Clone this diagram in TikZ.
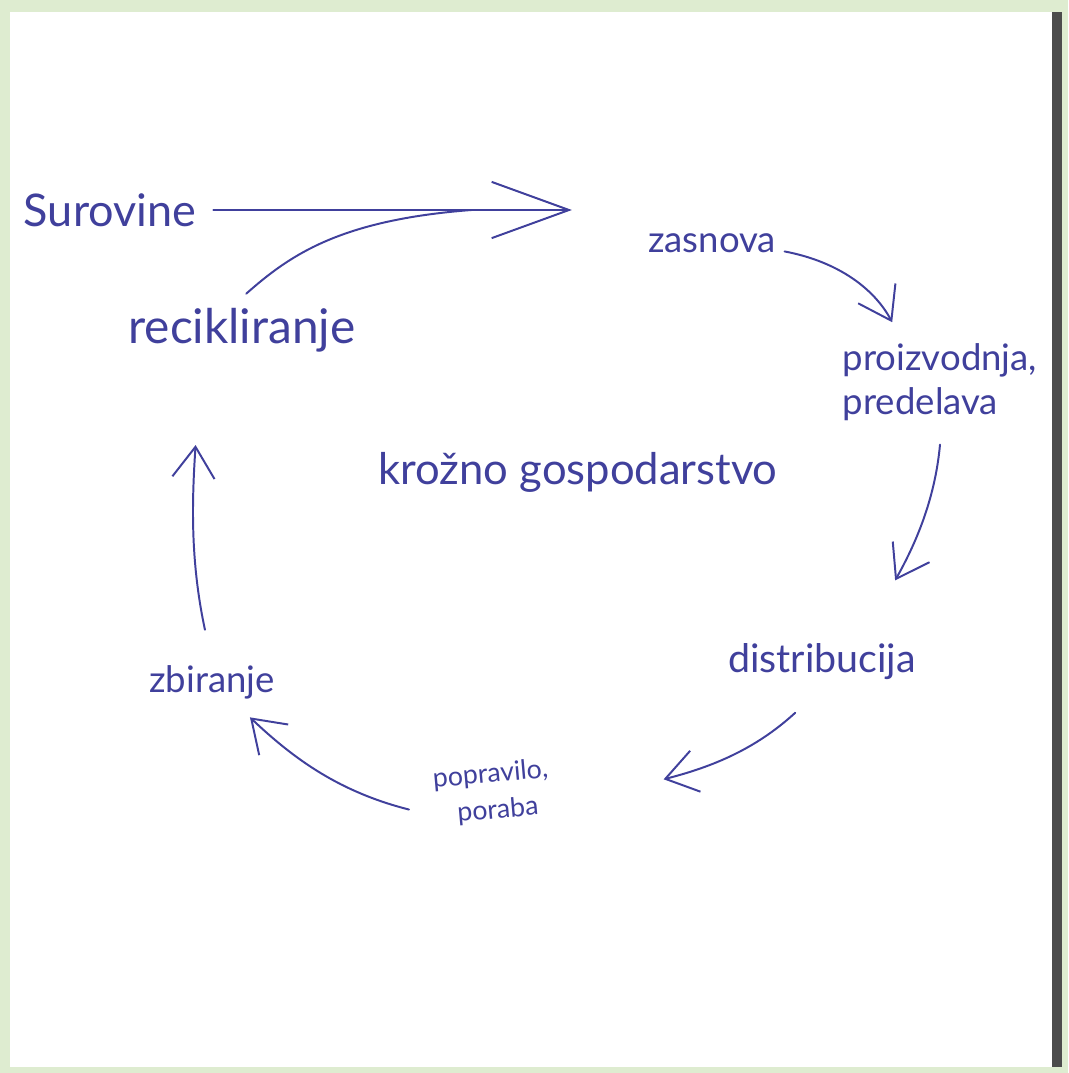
\documentclass[tikz,border=0pt]{standalone}
\usepackage{fontspec}
\setmainfont{Lato}
\usetikzlibrary{arrows.meta}
\definecolor{ink}{RGB}{64,64,156}
\definecolor{scanedge}{RGB}{222,236,208}
\begin{document}
\begin{tikzpicture}[x=0.025cm, y=-0.025cm,
        word/.style={text=ink, inner sep=2pt},
        stroke/.style={draw=ink, line width=1.4pt, line cap=round},
        flow/.style={stroke, -{Straight Barb[length=22pt, width=30pt]}},
        bigflow/.style={stroke, -{Straight Barb[length=55pt, width=40pt]}},
    ]
            \fill[scanedge] (0,0) rectangle (1068,1073);
            \fill[white] (10,12) rectangle (1052,1067);
            \fill[black!70] (1052,12) rectangle (1062,1067);
            \useasboundingbox (0,0) rectangle (1068,1073);

            \node[word, font=\fontsize{32}{38}\selectfont] (surovine) at (110,210) {Surovine};
            \node[word, font=\fontsize{26}{30}\selectfont] (zasnova) at (712,243) {zasnova};
            \node[word, font=\fontsize{26}{31}\selectfont, align=left] (proizvodnja) at (940,382) {proizvodnja,\\predelava};
            \node[word, font=\fontsize{28}{34}\selectfont] (distribucija) at (822,662) {distribucija};
            \node[word, font=\fontsize{19}{26}\selectfont, align=left, rotate=5] (popravilo) at (492,793) {popravilo,\\\hspace{0.8em}poraba};
            \node[word, font=\fontsize{26}{30}\selectfont] (zbiranje) at (212,682) {zbiranje};
            \node[word, font=\fontsize{34}{40}\selectfont] (recikliranje) at (242,330) {recikliranje};
            \node[word, font=\fontsize{31}{37}\selectfont] (krozno) at (578,472) {krožno gospodarstvo};

            \draw[bigflow] ([xshift=10pt]surovine.east) -- coordinate[pos=0.72] (join) ([xshift=-52pt]surovine.east -| zasnova.west);
            \draw[stroke] ([xshift=3pt,yshift=8pt]recikliranje.north) .. controls (290,255) and (340,220) .. (join);
            \draw[flow] ([xshift=4pt,yshift=-6pt]zasnova.east) .. controls (840,262) and (875,290) .. ([xshift=-34pt,yshift=13pt]proizvodnja.north);
            \draw[flow] ([yshift=-15pt]proizvodnja.south) .. controls (935,500) and (915,545) .. ([xshift=52pt,yshift=43pt]distribucija.north);
            \draw[flow] ([xshift=-19pt,yshift=-21pt]distribucija.south) .. controls (760,745) and (720,765) .. ([xshift=79pt,yshift=6pt]popravilo.east);
            \draw[flow] ([xshift=-16pt,yshift=-8pt]popravilo.west) .. controls (340,792) and (295,760) .. ([xshift=27pt,yshift=-11pt]zbiranje.south);
            \draw[flow] ([xshift=-5pt,yshift=23pt]zbiranje.north) .. controls (190,560) and (192,500) .. ([xshift=-33pt,yshift=-64pt]recikliranje.south);
\end{tikzpicture}
\end{document}
